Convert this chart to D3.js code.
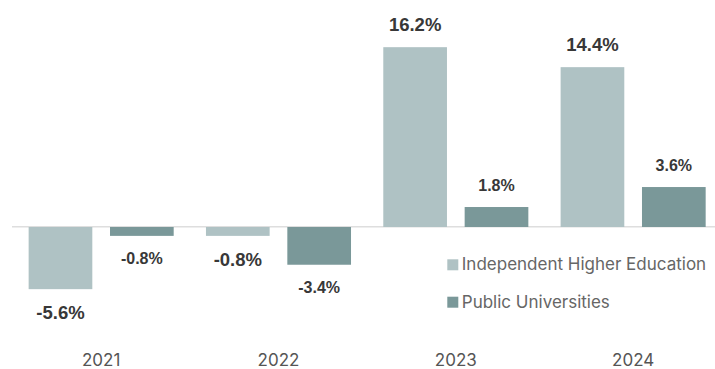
<!DOCTYPE html>
<html>
<head>
<meta charset="utf-8">
<script src="https://cdn.jsdelivr.net/npm/d3@7"></script>
<style>
  html, body { margin: 0; padding: 0; background: #fff; }
  svg { display: block; }
</style>
</head>
<body>
<svg id="chart" width="715" height="369"></svg>
<script>
// Year-on-year change, by sector (%)
const years = ["2021", "2022", "2023", "2024"];
const seriesNames = ["Independent Higher Education", "Public Universities"];
const independent = [-5.6, -0.8, 16.2, 14.4];
const publicUni = [-0.8, -3.4, 1.8, 3.6];

const colors = ["#afc2c4", "#7a9899"];
const labelSizes = [18.5, 16];
const values = [independent, publicUni];

const svg = d3.select("#chart");

const x0 = d3.scaleBand()
  .domain(years)
  .range([12.5, 721.8])
  .paddingInner(0.182)
  .paddingOuter(0.091);

const x1 = d3.scaleBand()
  .domain(seriesNames)
  .range([0, x0.bandwidth()])
  .paddingInner(0.2174);

const y = d3.scaleLinear()
  .domain([-8, 18])
  .range([315.8, 27.2]);

const color = d3.scaleOrdinal().domain(seriesNames).range(colors);

// plain hyphen for negatives
const fmt = v => (v < 0 ? "-" : "") + Math.abs(v).toFixed(1) + "%";

// zero line
svg.append("line")
  .attr("x1", 12).attr("x2", 715)
  .attr("y1", y(0) - 0.3).attr("y2", y(0) - 0.3)
  .attr("stroke", "#dedede")
  .attr("stroke-width", 1.5);

const rows = years.map((yr, i) => ({
  year: yr,
  items: seriesNames.map((s, k) => ({ series: s, k, value: values[k][i] }))
}));

const groups = svg.selectAll("g.year")
  .data(rows)
  .join("g")
  .attr("class", "year")
  .attr("transform", d => `translate(${x0(d.year)},0)`);

groups.selectAll("rect")
  .data(d => d.items)
  .join("rect")
  .attr("x", d => x1(d.series))
  .attr("width", x1.bandwidth())
  .attr("y", d => d.value >= 0 ? y(d.value) : y(0))
  .attr("height", d => Math.abs(y(d.value) - y(0)))
  .attr("fill", d => color(d.series));

// value labels
groups.selectAll("text.value")
  .data(d => d.items)
  .join("text")
  .attr("class", "value")
  .attr("x", d => x1(d.series) + x1.bandwidth() / 2)
  .attr("y", d => {
    const fs = labelSizes[d.k];
    return d.value >= 0 ? y(d.value) - 16 : y(d.value) + 17 + fs * 0.716;
  })
  .attr("text-anchor", "middle")
  .attr("font-family", "'Liberation Sans', Arial, sans-serif")
  .attr("font-weight", 700)
  .attr("font-size", d => labelSizes[d.k])
  .attr("fill", "#383838")
  .text(d => fmt(d.value));

// category axis labels
const xAxis = d3.axisBottom(x0).tickSize(0).tickPadding(0);
const axisG = svg.append("g")
  .attr("transform", "translate(0,353.5)")
  .call(xAxis);
axisG.select(".domain").remove();
axisG.selectAll("text")
  .attr("dy", "0.71em")
  .attr("y", 0)
  .attr("font-family", "Inter, 'Noto Sans', sans-serif")
  .attr("font-size", 17)
  .attr("fill", "#555");

// legend
const legend = svg.append("g")
  .attr("transform", "translate(447.3,259.3)");
const li = legend.selectAll("g")
  .data(seriesNames)
  .join("g")
  .attr("transform", (d, i) => `translate(0,${i * 37.4})`);
li.append("rect")
  .attr("width", 11).attr("height", 11)
  .attr("fill", d => color(d));
li.append("text")
  .attr("x", 14.5)
  .attr("y", 11)
  .attr("font-family", "Inter, 'Noto Sans', sans-serif")
  .attr("font-size", 17)
  .attr("fill", "#666")
  .text(d => d);
</script>
</body>
</html>
